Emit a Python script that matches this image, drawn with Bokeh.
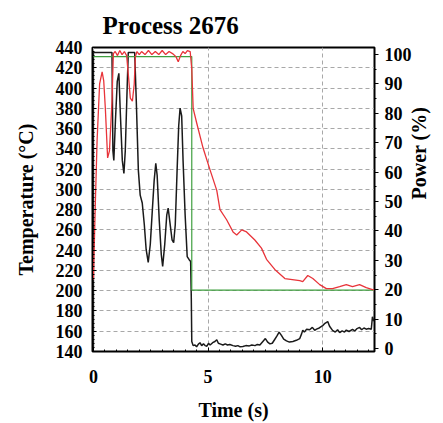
import math
from bokeh.plotting import figure
from bokeh.models import Range1d, LinearAxis, FixedTicker
from bokeh.embed import file_html
from bokeh.resources import INLINE

# ---- data ----
red_t = [0.0, 0.087, 0.16, 0.27, 0.38, 0.45, 0.52, 0.62, 0.70, 0.81, 0.87, 0.95, 1.05, 1.15, 1.25, 1.35, 1.45,
         1.52, 1.61, 1.70, 1.78, 1.83, 1.9, 2.0, 2.1, 2.25, 2.4, 2.55, 2.7, 2.85, 3.0, 3.15, 3.3, 3.45, 3.6, 3.7,
         3.8, 3.9, 4.0, 4.1, 4.22, 4.29, 4.35, 4.51, 4.78, 5.09, 5.38, 5.52, 5.81, 6.09, 6.25, 6.47, 6.68, 7.04,
         7.33, 7.55, 7.91, 8.35, 9.0, 9.13, 9.35, 9.57, 9.87, 10.16, 10.43, 10.74, 11.03, 11.30, 11.61, 11.9, 12.17, 12.26]
red_temp = [211, 289, 348, 404, 416, 407, 380, 331, 338, 387, 434, 436, 432, 437, 433, 436, 432,
            414, 390, 387, 404, 431, 436, 433, 436, 433, 437, 433, 436, 433, 437, 433, 436, 434, 431, 426,
            432, 436, 434, 437, 436, 419, 380, 365, 341, 319, 299, 280, 270, 258, 255, 260, 258, 250,
            242, 231, 221, 212, 210, 209, 215, 212, 206, 202, 202, 204, 206, 204, 206, 203, 201, 201]

black_t = [0.0, 0.0, 0.81, 0.85, 0.89, 0.96, 1.04, 1.11, 1.17, 1.26, 1.33, 1.39, 1.48, 1.52, 1.80, 1.87, 1.96,
           2.04, 2.13, 2.22, 2.30, 2.39, 2.48, 2.57, 2.65, 2.72, 2.78, 2.87, 2.96, 3.02, 3.11, 3.2, 3.26, 3.35,
           3.43, 3.5, 3.57, 3.65, 3.72, 3.78, 3.85, 3.91, 4.0, 4.09, 4.17, 4.24, 4.27, 4.29, 4.35, 4.43, 4.5,
           4.58, 4.65, 4.72, 4.8, 4.87, 4.95, 5.02, 5.09, 5.2, 5.3, 5.38, 5.45, 5.55, 5.65, 5.75, 5.85, 5.95,
           6.09, 6.2, 6.3, 6.4, 6.52, 6.65, 6.8, 6.91, 7.05, 7.15, 7.26, 7.4, 7.5, 7.6, 7.7, 7.8, 7.9, 8.0, 8.1,
           8.2, 8.3, 8.42, 8.55, 8.7, 8.85, 9.0, 9.08, 9.13, 9.2, 9.3, 9.43, 9.55, 9.65, 9.73, 9.85, 10.0, 10.1,
           10.22, 10.3, 10.43, 10.55, 10.65, 10.74, 10.85, 10.95, 11.03, 11.15, 11.3, 11.4, 11.5, 11.61, 11.7,
           11.8, 11.9, 12.0, 12.12, 12.17, 12.22, 12.26]
black_power = [0.0, 100.7, 100.7, 67.3, 64.0, 77.4, 90.9, 93.6, 80.8, 64.0, 59.6, 67.3, 90.9, 100.7, 100.7, 84.2, 60.6,
               52.2, 49.5, 42.1, 33.7, 29.3, 35.4, 47.1, 57.2, 63.0, 58.9, 43.8, 32.0, 27.9, 35.4, 45.5, 47.8, 42.1,
               37.0, 36.0, 42.1, 60.6, 75.8, 81.8, 79.1, 64.0, 45.5, 31.3, 30.3, 29.6, 16.8, 2.4, 1.0, 1.2, 0.6,
               1.5, 2.0, 1.0, 1.6, 1.0, 0.8, 1.8, 1.2, 2.0, 2.4, 3.0, 1.8, 1.5, 1.2, 1.6, 1.2, 1.4,
               1.0, 0.8, 1.0, 0.6, 0.7, 1.0, 0.9, 1.2, 1.0, 1.4, 1.2, 2.5, 3.4, 2.2, 1.6, 1.8, 3.0, 4.2, 5.6,
               4.5, 3.2, 2.6, 2.2, 2.4, 2.8, 3.4, 5.0, 6.2, 5.6, 6.6, 6.4, 7.2, 6.2, 6.6, 7.0, 7.8, 8.6,
               9.2, 7.6, 6.2, 5.6, 6.4, 5.4, 6.0, 5.6, 6.3, 5.8, 6.5, 6.0, 6.8, 7.2, 6.4,
               7.0, 6.6, 6.8, 6.6, 10.8, 9.5, 9.5]

green_t = [0.0, 4.29, 4.29, 12.26]
green_power = [99.3, 99.3, 19.9, 19.9]

temp_ticks = list(range(140, 441, 20))
power_ticks = list(range(0, 101, 10))
time_ticks = [0, 5, 10]

FONT = "Liberation Serif"

p = figure(width=443, height=423, output_backend="svg", toolbar_location=None,
           x_range=Range1d(-0.04, 12.26), y_range=Range1d(140, 440),
           min_border_left=92, min_border_right=68, min_border_top=46, min_border_bottom=70)
p.extra_y_ranges = {"power": Range1d(-1, 102.4)}

p.title.text = "Process 2676"
p.title.text_font = FONT
p.title.text_font_style = "bold"
p.title.text_font_size = "25px"
p.title.text_color = "black"
p.title.align = "left"
p.title.offset = 10
p.title.standoff = 18

p.outline_line_color = "black"
p.outline_line_width = 2
p.outline_line_alpha = 1.0

# axes styling
p.xaxis.ticker = FixedTicker(ticks=time_ticks, minor_ticks=[i * 0.5 for i in range(0, 25)])
p.yaxis.ticker = FixedTicker(ticks=temp_ticks, minor_ticks=list(range(140, 441, 4)))
p.xaxis.axis_label = "Time (s)"
p.yaxis.axis_label = "Temperature (°C)"

right = LinearAxis(y_range_name="power", axis_label="Power (%)",
                   ticker=FixedTicker(ticks=power_ticks, minor_ticks=list(range(0, 101, 5))))
p.add_layout(right, "right")

for ax in [p.xaxis[0], p.yaxis[0], right]:
    ax.major_label_text_font = FONT
    ax.major_label_text_font_style = "bold"
    ax.major_label_text_font_size = "18px"
    ax.major_label_text_color = "black"
    ax.axis_label_text_font = FONT
    ax.axis_label_text_font_style = "bold"
    ax.axis_label_text_font_size = "20px"
    ax.axis_label_text_color = "black"
    ax.axis_line_color = "black"
    ax.axis_line_width = 1
    ax.major_tick_line_color = "black"
    ax.minor_tick_line_color = "black"

p.yaxis.major_tick_in = 4
p.yaxis.major_tick_out = 0
p.yaxis.minor_tick_in = 2
p.yaxis.minor_tick_out = 0
p.yaxis.major_label_standoff = 10
p.yaxis.axis_label_standoff = 16

p.xaxis.major_tick_in = 4
p.xaxis.major_tick_out = 0
p.xaxis.minor_tick_in = 2
p.xaxis.minor_tick_out = 0
p.xaxis.major_label_standoff = 18
p.xaxis.axis_label_standoff = 13

right.major_tick_in = 0
right.major_tick_out = 4
right.minor_tick_in = 0
right.minor_tick_out = 2
right.major_label_standoff = 6
right.axis_label_standoff = 4
right.axis_label_text_line_height = 1.0
try:
    right.axis_label_orientation = math.pi / 2
except Exception:
    pass

p.xgrid.grid_line_color = "#a8a8a8"
p.xgrid.grid_line_dash = "4 3"
p.xgrid.grid_line_width = 1
p.ygrid.grid_line_color = "#a8a8a8"
p.ygrid.grid_line_dash = "4 3"
p.ygrid.grid_line_width = 1

p.line(black_t, black_power, y_range_name="power", line_color="#1a1a1a", line_width=1.5)
p.line(green_t, green_power, y_range_name="power", line_color="#3f9f3f", line_width=1.2)
p.line(red_t, red_temp, line_color="#e8343a", line_width=1.3)

open("out.html", "w").write(file_html(p, INLINE))
